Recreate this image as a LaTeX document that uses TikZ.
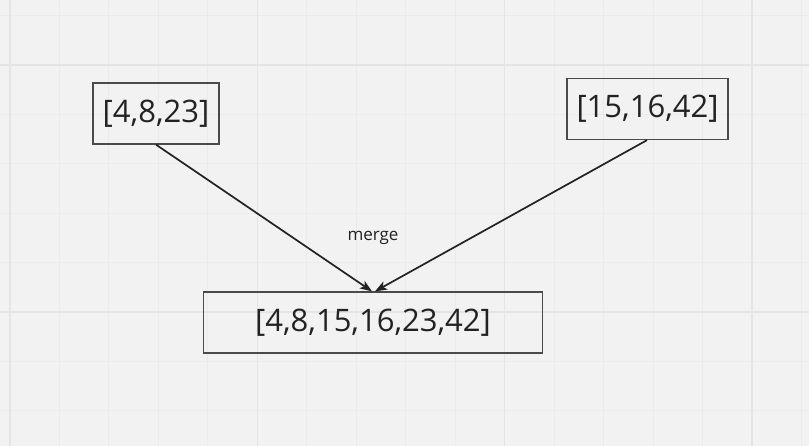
\documentclass[tikz,border=0pt]{standalone}
\usepackage{fontspec}
\setmainfont{Open Sans}
\usetikzlibrary{arrows.meta}
\definecolor{bg}{HTML}{F2F2F2}
\definecolor{minorgrid}{HTML}{EBEBEB}
\definecolor{majorgrid}{HTML}{E4E4E4}
\definecolor{boxline}{HTML}{4A4A4A}
\definecolor{ink}{HTML}{222222}
\tikzset{
  listbox/.style={draw=boxline,line width=1.3pt,minimum height=61pt,inner sep=0pt,
    text=ink,font=\fontsize{31}{31}\selectfont},
  mergearrow/.style={draw=ink,line width=1.7pt,-{Stealth[length=12pt,width=9pt,inset=3pt]}}
}
\begin{document}
\begin{tikzpicture}[x=1pt,y=-1pt]
\fill[bg] (0,0) rectangle (809,446);
\useasboundingbox (0,0) rectangle (809,446);
% grid
\foreach \k in {-1,...,16} \draw[minorgrid,line width=1pt] (10+49.47*\k,0)--(10+49.47*\k,446);
\foreach \k in {-2,...,8} \draw[minorgrid,line width=1pt] (0,65+49.4*\k)--(809,65+49.4*\k);
\foreach \k in {0,5,10,15} \draw[majorgrid,line width=1.5pt] (10+49.47*\k,0)--(10+49.47*\k,446);
\foreach \k in {0,5} \draw[majorgrid,line width=1.5pt] (0,65+49.4*\k)--(809,65+49.4*\k);
% lists
\node[listbox,minimum width=126pt] (left) at (156,113.5) {[4,8,23]};
\node[listbox,minimum width=161pt] (right) at (647.5,109) {[15,16,42]};
\node[listbox,minimum width=339pt] (merged) at (373,322.5) {[4,8,15,16,23,42]};
\node[text=ink,font=\fontsize{17}{17}\selectfont] (mergelabel) at (373,238) {merge};
\draw[mergearrow] (left.south) -- ([xshift=-1pt]merged.north);
\draw[mergearrow] ([xshift=-0.5pt]right.south) -- ([xshift=2pt]merged.north);
\end{tikzpicture}
\end{document}
